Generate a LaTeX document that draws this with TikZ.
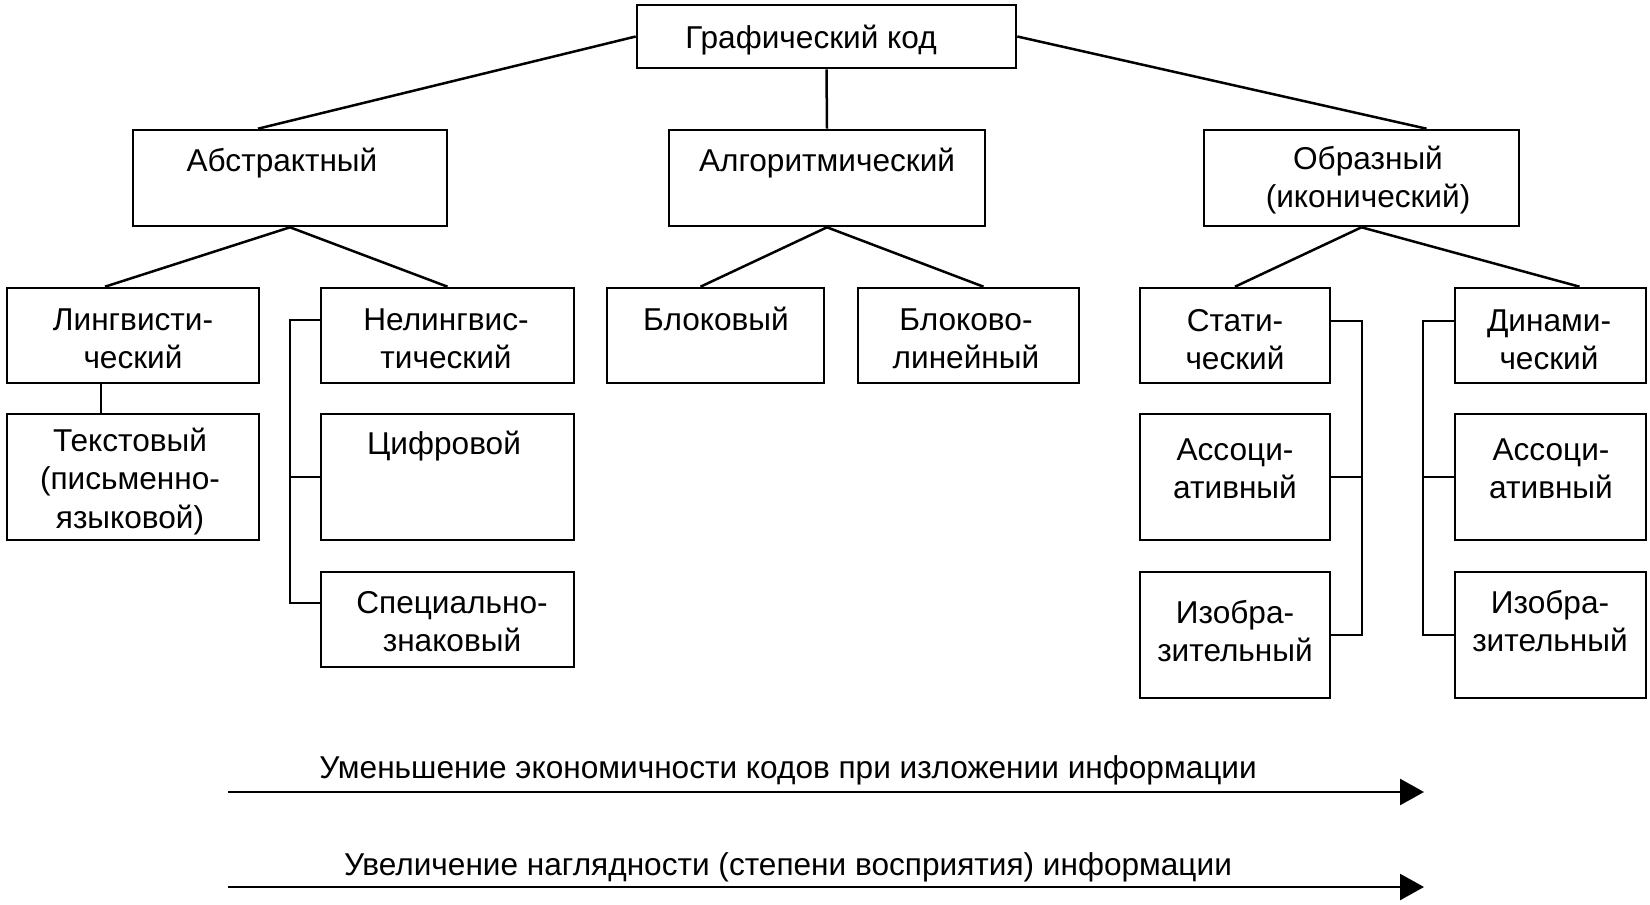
\documentclass[tikz,border=0pt]{standalone}
\usepackage{fontspec}
\setmainfont{Liberation Sans}
\usetikzlibrary{arrows.meta}
\begin{document}
\begin{tikzpicture}[x=1pt,y=-1pt,
  box/.style={draw,line width=2.6pt,inner sep=0pt,rectangle},
  txt/.style={font=\fontsize{31.6}{38.5}\selectfont,align=center,inner sep=0pt},
  conn/.style={line width=2.5pt},
  brk/.style={line width=2.1pt},
  arr/.style={line width=2.6pt,-{Triangle[length=24pt,width=26pt]}}]
\useasboundingbox (0,0) rectangle (1650,905);
% boxes
\node[box,minimum width=379pt,minimum height=63pt] (top) at (826.5,36.5) {};
\node[box,minimum width=314pt,minimum height=96pt] (abs) at (290,178) {};
\node[box,minimum width=316pt,minimum height=96pt] (alg) at (827,178) {};
\node[box,minimum width=315pt,minimum height=96pt] (obr) at (1361.5,178) {};
\node[box,minimum width=252pt,minimum height=95pt] (ling) at (133,335.5) {};
\node[box,minimum width=253pt,minimum height=95pt] (neling) at (447.5,335.5) {};
\node[box,minimum width=217pt,minimum height=95pt] (blok) at (715.5,335.5) {};
\node[box,minimum width=221pt,minimum height=95pt] (bloklin) at (968.5,335.5) {};
\node[box,minimum width=190pt,minimum height=95pt] (stat) at (1235,335.5) {};
\node[box,minimum width=191pt,minimum height=95pt] (dyn) at (1550.5,335.5) {};
\node[box,minimum width=252pt,minimum height=126pt] (tekst) at (133,477) {};
\node[box,minimum width=253pt,minimum height=126pt] (cifr) at (447.5,477) {};
\node[box,minimum width=190pt,minimum height=126pt] (ass1) at (1235,477) {};
\node[box,minimum width=191pt,minimum height=126pt] (ass2) at (1550.5,477) {};
\node[box,minimum width=253pt,minimum height=95pt] (spec) at (447.5,619.5) {};
\node[box,minimum width=190pt,minimum height=126pt] (izo1) at (1235,635) {};
\node[box,minimum width=191pt,minimum height=126pt] (izo2) at (1550.5,635) {};
% texts
\node[txt] (top-t) at (811,41) {Графический код\strut};
\node[txt] (abs-t) at (282,164) {Абстрактный\strut};
\node[txt] (alg-t) at (827,164) {Алгоритмический\strut};
\node[txt] (obr-t) at (1368,181) {Образный\strut\\(иконический)\strut};
\node[txt] (ling-t) at (133,342) {Лингвисти-\strut\\ческий\strut};
\node[txt] (neling-t) at (446,342) {Нелингвис-\strut\\тический\strut};
\node[txt] (blok-t) at (716,323) {Блоковый\strut};
\node[txt] (bloklin-t) at (966,342) {Блоково-\strut\\линейный\strut};
\node[txt] (stat-t) at (1235,343) {Стати-\strut\\ческий\strut};
\node[txt] (dyn-t) at (1549,343) {Динами-\strut\\ческий\strut};
\node[txt] (tekst-t) at (130,482) {Текстовый\strut\\(письменно-\strut\\языковой)\strut};
\node[txt] (cifr-t) at (444,447) {Цифровой\strut};
\node[txt] (spec-t) at (452,625) {Специально-\strut\\знаковый\strut};
\node[txt] (ass1-t) at (1235,472) {Ассоци-\strut\\ативный\strut};
\node[txt] (ass2-t) at (1551,472) {Ассоци-\strut\\ативный\strut};
\node[txt] (izo1-t) at (1235,635) {Изобра-\strut\\зительный\strut};
\node[txt] (izo2-t) at (1550,625) {Изобра-\strut\\зительный\strut};
\node[txt] (a1-t) at (788,771) {Уменьшение экономичности кодов при изложении информации\strut};
\node[txt] (a2-t) at (788,868) {Увеличение наглядности (степени восприятия) информации\strut};
% tree connectors
\draw[conn] (top.west) -- ([xshift=-32pt]abs.north);
\draw[conn] (top.south) -- (alg.north);
\draw[conn] (top.east) -- ([xshift=65pt]obr.north);
\draw[conn] (abs.south) -- ([xshift=-28pt]ling.north);
\draw[conn] (abs.south) -- (neling.north);
\draw[conn] (alg.south) -- ([xshift=-15pt]blok.north);
\draw[conn] (alg.south) -- ([xshift=15pt]bloklin.north);
\draw[conn] (obr.south) -- (stat.north);
\draw[conn] (obr.south) -- ([xshift=29pt]dyn.north);
\draw[conn] ([xshift=-32pt]ling.south) -- ([xshift=-32pt]tekst.north);
% brackets
\draw[brk] ([yshift=15.5pt]neling.west) -- ++(-30,0) |- ([yshift=16.5pt]spec.west);
\draw[brk] (cifr.west) -- ++(-30,0);
\draw[brk] ([yshift=14.5pt]stat.east) -- ++(31,0) |- (izo1.east);
\draw[brk] (ass1.east) -- ++(31,0);
\draw[brk] ([yshift=14.5pt]dyn.west) -- ++(-31,0) |- (izo2.west);
\draw[brk] (ass2.west) -- ++(-31,0);
% arrows
\coordinate (a1s) at (228,792);
\coordinate (a1e) at (1424,792);
\coordinate (a2s) at (228,887);
\coordinate (a2e) at (1424,887);
\draw[arr] (a1s) -- (a1e);
\draw[arr] (a2s) -- (a2e);
\end{tikzpicture}
\end{document}
